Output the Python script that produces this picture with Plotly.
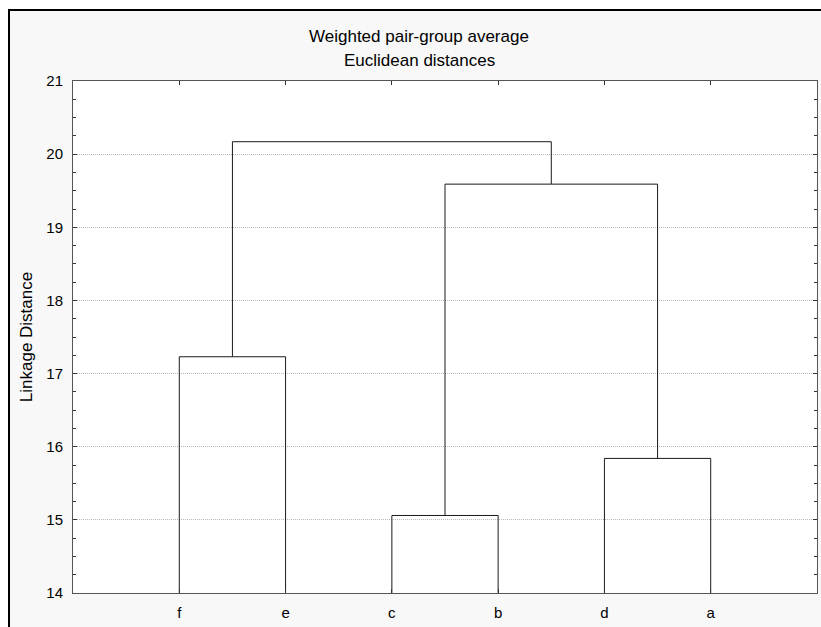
import plotly.graph_objects as go

# ---- data ----
leaves = ["f", "e", "c", "b", "d", "a"]
# merges: (left member, right member, linkage distance)
merge_left = ["f", "c", "d", "cb", "fe"]
merge_right = ["e", "b", "a", "da", "cbda"]
merge_height = [17.23, 15.06, 15.84, 19.59, 20.17]
y_ticks = [14, 15, 16, 17, 18, 19, 20, 21]

base = 14.0
pos = {name: i + 1 for i, name in enumerate(leaves)}
hgt = {name: base for name in leaves}

xs, ys = [], []
for l, r, h in zip(merge_left, merge_right, merge_height):
    xl, xr = pos[l], pos[r]
    xs += [xl, xl, xr, xr, None]
    ys += [hgt[l], h, h, hgt[r], None]
    new = l + r
    pos[new] = (xl + xr) / 2
    hgt[new] = h

W, H = 821, 627
L, T, R, B = 73, 81, 4, 34
pw, ph = W - L - R, H - T - B

fig = go.Figure()
fig.add_trace(go.Scatter(x=xs, y=ys, mode="lines",
                         line=dict(color="#1a1a1a", width=1),
                         hoverinfo="skip", showlegend=False))

font = "Liberation Sans, Arial, sans-serif"

def px(x):
    return (x - L) / pw

def py(y):
    return 1 - (y - T) / ph

fig.update_layout(
    width=W, height=H,
    margin=dict(l=L, r=R, t=T, b=B),
    paper_bgcolor="white",
    plot_bgcolor="white",
    font=dict(family=font, size=15, color="black"),
    showlegend=False,
    shapes=[
        dict(type="rect", xref="paper", yref="paper",
             x0=px(9), x1=px(830), y0=py(11), y1=py(640),
             fillcolor="#f8f8f8", line=dict(width=0),
             layer="below"),
        dict(type="rect", xref="paper", yref="paper",
             x0=0, x1=1, y0=0, y1=1,
             fillcolor="white", line=dict(width=0), layer="below"),
        dict(type="line", xref="paper", yref="paper",
             x0=px(8), x1=px(830), y0=py(10), y1=py(10),
             line=dict(color="black", width=2)),
        dict(type="line", xref="paper", yref="paper",
             x0=px(9), x1=px(9), y0=py(10), y1=py(640),
             line=dict(color="black", width=2)),
    ],
    annotations=[
        dict(text="Weighted pair-group average", xref="paper", yref="paper",
             x=px(419), y=py(36), showarrow=False, xanchor="center",
             yanchor="middle", font=dict(size=17, family=font)),
        dict(text="Euclidean distances", xref="paper", yref="paper",
             x=px(419), y=py(60), showarrow=False, xanchor="center",
             yanchor="middle", font=dict(size=17, family=font)),
    ],
)

fig.update_xaxes(
    range=[0, 7], tickvals=list(range(1, len(leaves) + 1)), ticktext=leaves,
    showgrid=False, zeroline=False,
    showline=True, linecolor="#555", linewidth=1, mirror="ticks",
    ticks="inside", ticklen=4, tickcolor="#333",
    ticklabelstandoff=6,
    tickfont=dict(size=15, family=font),
)
fig.update_yaxes(
    range=[14, 21], tickvals=y_ticks,
    showgrid=True, gridcolor="#b8b8b8", griddash="1px,1px", gridwidth=1,
    zeroline=False,
    showline=True, linecolor="#555", linewidth=1, mirror="ticks",
    ticks="inside", ticklen=4, tickcolor="#333",
    minor=dict(dtick=0.25, ticks="inside", ticklen=3, tickcolor="#333", showgrid=False),
    ticklabelstandoff=6,
    tickfont=dict(size=15, family=font),
    title=dict(text="Linkage Distance", font=dict(size=17, family=font), standoff=9),
)

fig.write_html(
    "out.html",
    config={"displayModeBar": False},
    post_script="document.body.style.margin='0';document.body.style.overflow='hidden';",
)
